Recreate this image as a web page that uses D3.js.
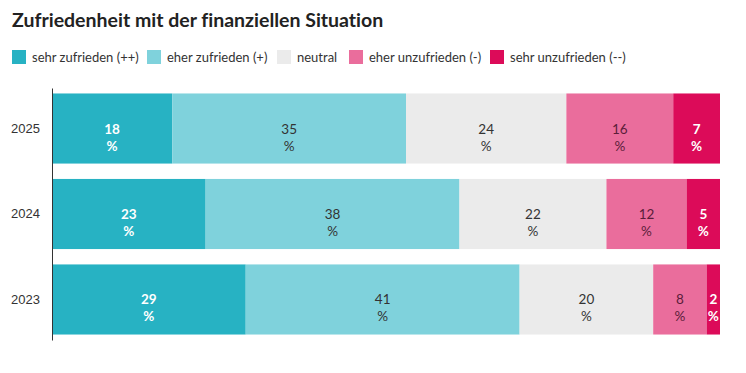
<!DOCTYPE html>
<html>
<head>
<meta charset="utf-8">
<script src="https://cdn.jsdelivr.net/npm/d3@7"></script>
<style>
  body { margin: 0; background: #fff; }
  svg { font-family: "Source Sans Pro", Lato, "Noto Sans", sans-serif; font-variant-ligatures: none; }
</style>
</head>
<body>
<div id="chart"></div>
<script>
// daten
var years = ["2025", "2024", "2023"];
var categories = ["sehr zufrieden (++)", "eher zufrieden (+)", "neutral", "eher unzufrieden (-)", "sehr unzufrieden (--)"];
var sehrZufrieden   = [18, 23, 29];
var eherZufrieden   = [35, 38, 41];
var neutral         = [24, 22, 20];
var eherUnzufrieden = [16, 12, 8];
var sehrUnzufrieden = [7, 5, 2];

var colors = ["#27b2c3", "#7fd2dc", "#ebebeb", "#ea6d9c", "#dc0b59"];
var textColors = ["#fff", "#333", "#333", "#5b1d3a", "#fff"];
var textWeights = ["bold", "normal", "normal", "normal", "bold"];

var width = 746, height = 373;
var margin = {top: 88, right: 26, bottom: 33, left: 52};

var svg = d3.select("#chart").append("svg")
    .attr("width", width)
    .attr("height", height);

svg.append("text")
    .attr("x", 12)
    .attr("y", 27)
    .style("font-size", "19.5px")
    .style("font-weight", "bold")
    .style("fill", "#222")
    .text("Zufriedenheit mit der finanziellen Situation");

// legende
var legendX = [12, 147, 277, 349, 490];
var legend = svg.selectAll(".legend")
    .data(categories)
    .enter().append("g")
    .attr("transform", function(d, i) { return "translate(" + legendX[i] + ",50)"; });
legend.append("rect")
    .attr("width", 14)
    .attr("height", 14)
    .style("fill", function(d, i) { return colors[i]; });
legend.append("text")
    .attr("x", 20)
    .attr("y", 12)
    .style("font-size", "13px")
    .style("fill", "#333")
    .text(function(d) { return d; });

var series = [sehrZufrieden, eherZufrieden, neutral, eherUnzufrieden, sehrUnzufrieden];
var rows = years.map(function(y, i) {
    var r = {year: y};
    categories.forEach(function(c, k) { r[c] = series[k][i]; });
    return r;
});

var stack = d3.stack().keys(categories)(rows);

var x = d3.scaleLinear()
    .domain([0, 100])
    .range([margin.left, width - margin.right]);

var y = d3.scaleBand()
    .domain(years)
    .range([margin.top, height - margin.bottom])
    .paddingInner(0.18)
    .paddingOuter(0.064);

var layer = svg.selectAll(".layer")
    .data(stack)
    .enter().append("g")
    .attr("class", "layer");

layer.selectAll("rect")
    .data(function(d) { return d; })
    .enter().append("rect")
    .attr("x", function(d) { return x(d[0]); })
    .attr("y", function(d) { return y(d.data.year); })
    .attr("width", function(d) { return x(d[1]) - x(d[0]); })
    .attr("height", y.bandwidth())
    .style("fill", function() { return colors[d3.select(this.parentNode).datum().index]; });

var lab = layer.selectAll("text")
    .data(function(d) { return d.map(function(s) { return {s: s, k: d.index}; }); })
    .enter().append("text")
    .attr("text-anchor", "middle")
    .style("font-size", "13.5px")
    .style("fill", function(d) { return textColors[d.k]; })
    .style("font-weight", function(d) { return textWeights[d.k]; });

lab.append("tspan")
    .attr("x", function(d) { return (x(d.s[0]) + x(d.s[1])) / 2; })
    .attr("y", function(d) { return y(d.s.data.year) + y.bandwidth() / 2 + 5; })
    .text(function(d) { return d.s[1] - d.s[0]; });
lab.append("tspan")
    .attr("x", function(d) { return (x(d.s[0]) + x(d.s[1])) / 2; })
    .attr("y", function(d) { return y(d.s.data.year) + y.bandwidth() / 2 + 22; })
    .text("%");

// y achse
var yAxis = svg.append("g")
    .attr("transform", "translate(" + margin.left + ",0)")
    .call(d3.axisLeft(y).tickSize(0).tickPadding(12));
yAxis.select(".domain").attr("stroke", "#333");
yAxis.selectAll("text")
    .style("font-size", "13px")
    .style("font-family", "inherit")
    .style("fill", "#333");
</script>
</body>
</html>
